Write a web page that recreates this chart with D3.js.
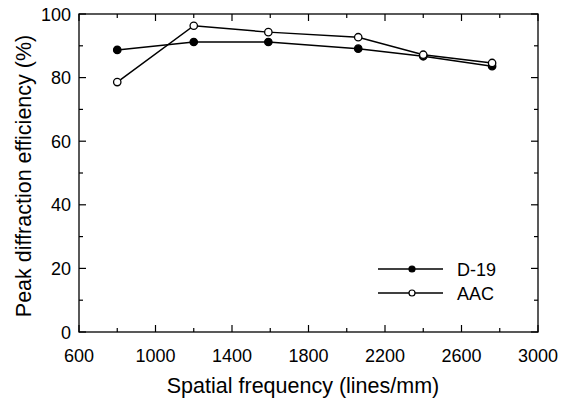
<!DOCTYPE html>
<html><head><meta charset="utf-8">
<script src="https://cdn.jsdelivr.net/npm/d3@7"></script>
<style>body{margin:0;background:#fff}svg{display:block}text{font-family:"Liberation Sans",Arial,sans-serif;fill:#000}</style>
</head><body><svg id="c" width="569" height="404"></svg>
<script>
const frequencies = [800, 1200, 1590, 2060, 2400, 2760];
const d19 = [88.7, 91.2, 91.2, 89.1, 86.7, 83.6];
const aac = [78.6, 96.3, 94.3, 92.7, 87.2, 84.6];
const seriesNames = ["D-19", "AAC"];
const xTicks = [600, 1000, 1400, 1800, 2200, 2600, 3000];
const yTicks = [0, 20, 40, 60, 80, 100];

const svg = d3.select("#c");
const L = 79, R = 538, T = 14, B = 332;
const x = d3.scaleLinear().domain([600, 3000]).range([L, R]);
const y = d3.scaleLinear().domain([0, 100]).range([B, T]);

const g = svg.append("g");
g.append("rect").attr("x", L).attr("y", T).attr("width", R - L).attr("height", B - T)
  .attr("fill", "none").attr("stroke", "#000").attr("stroke-width", 1.3);

const xMinor = d3.range(600, 3001, 200);
const yMinor = d3.range(0, 101, 10);
xMinor.forEach(v => {
  const major = xTicks.includes(v);
  const len = major ? 7 : 4;
  g.append("line").attr("x1", x(v)).attr("x2", x(v)).attr("y1", B).attr("y2", B - len).attr("stroke", "#000").attr("stroke-width", 1.2);
  g.append("line").attr("x1", x(v)).attr("x2", x(v)).attr("y1", T).attr("y2", T + len).attr("stroke", "#000").attr("stroke-width", 1.2);
});
yMinor.forEach(v => {
  const major = yTicks.includes(v);
  const len = major ? 7 : 4;
  g.append("line").attr("y1", y(v)).attr("y2", y(v)).attr("x1", L).attr("x2", L + len).attr("stroke", "#000").attr("stroke-width", 1.2);
  g.append("line").attr("y1", y(v)).attr("y2", y(v)).attr("x1", R).attr("x2", R - len).attr("stroke", "#000").attr("stroke-width", 1.2);
});
xTicks.forEach(v => {
  g.append("text").attr("x", x(v)).attr("y", 362).attr("text-anchor", "middle").attr("font-size", 18).text(v);
});
yTicks.forEach(v => {
  g.append("text").attr("x", 71).attr("y", y(v) + 6.5).attr("text-anchor", "end").attr("font-size", 18).text(v);
});
g.append("text").attr("x", 303).attr("y", 393).attr("text-anchor", "middle").attr("font-size", 21.5).text("Spatial frequency (lines/mm)");
g.append("text").attr("transform", `translate(31,176) rotate(-90)`).attr("text-anchor", "middle").attr("font-size", 21.5).text("Peak diffraction efficiency (%)");

const line = d3.line().x((d, i) => x(frequencies[i])).y(d => y(d));
const series = [{name: seriesNames[0], vals: d19, fill: "#000"}, {name: seriesNames[1], vals: aac, fill: "#fff"}];
series.forEach(s => {
  g.append("path").attr("d", line(s.vals)).attr("fill", "none").attr("stroke", "#000").attr("stroke-width", 1.5);
});
series.forEach(s => {
  g.selectAll(null).data(s.vals).enter().append("circle")
    .attr("cx", (d, i) => x(frequencies[i])).attr("cy", d => y(d)).attr("r", 3.7)
    .attr("fill", s.fill).attr("stroke", "#000").attr("stroke-width", 1.3);
});
// legend
series.forEach((s, i) => {
  const ly = 269 + i * 24;
  g.append("line").attr("x1", 378).attr("x2", 443).attr("y1", ly).attr("y2", ly).attr("stroke", "#000").attr("stroke-width", 1.5);
  g.append("circle").attr("cx", 412).attr("cy", ly).attr("r", 3).attr("fill", s.fill).attr("stroke", "#000").attr("stroke-width", 1.2);
  g.append("text").attr("x", 457).attr("y", ly + 7).attr("font-size", 18).text(s.name);
});
</script></body></html>
